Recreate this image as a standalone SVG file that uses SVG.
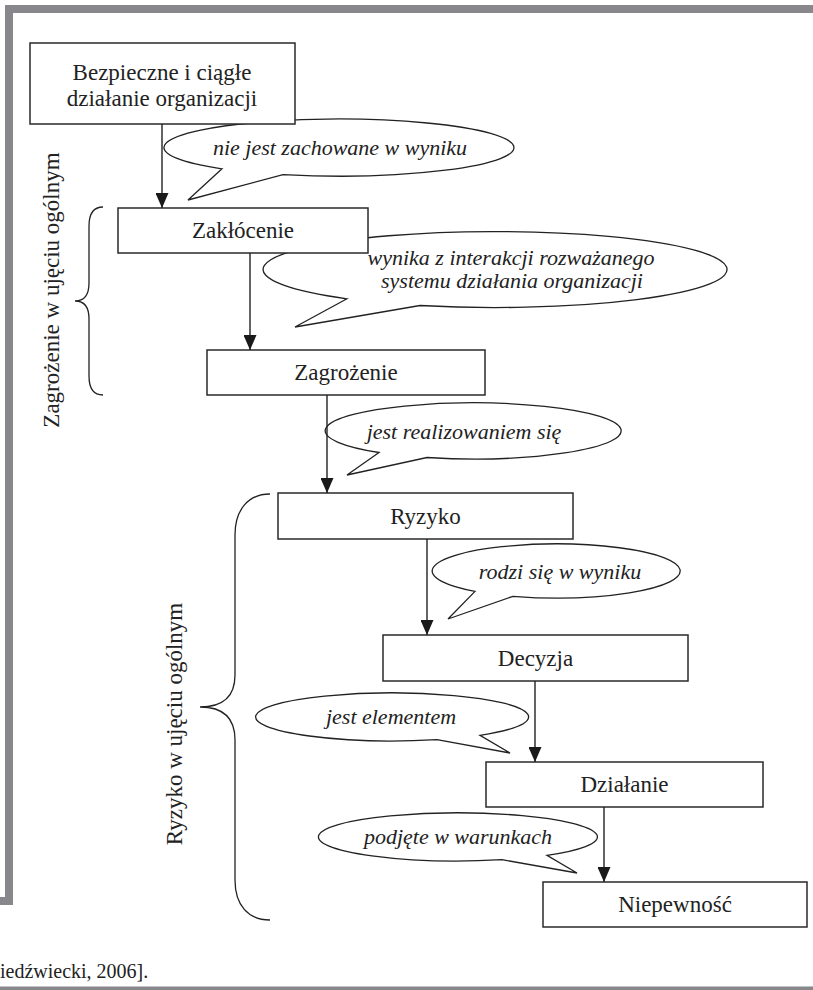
<svg xmlns="http://www.w3.org/2000/svg" width="813" height="990" viewBox="0 0 813 990">
<style>
.frame{fill:#88888c}
.box{fill:#fff;stroke:#2a2a2a;stroke-width:1.5}
.bt{font-family:"Liberation Serif",serif;font-size:23px;fill:#222;text-anchor:middle}
.bub{fill:#fff;stroke:#222;stroke-width:1.3;stroke-linejoin:miter}
.it{font-family:"Liberation Serif",serif;font-style:italic;font-size:22px;fill:#222;text-anchor:middle}
.edge{stroke:#222;stroke-width:1.4;fill:none;marker-end:url(#ah)}
.brace{fill:none;stroke:#222;stroke-width:1.3}
.vt{font-family:"Liberation Serif",serif;font-size:23px;fill:#222;text-anchor:middle}
.cap{font-family:"Liberation Serif",serif;font-size:20px;fill:#222}
</style>
<defs>
<marker id="ah" viewBox="0 0 15 13" refX="15" refY="6.5" markerWidth="15" markerHeight="13" markerUnits="userSpaceOnUse" orient="auto">
<path d="M0,0 L15,6.5 L0,13 Z" fill="#1a1a1a"/>
</marker>
</defs>
<rect width="813" height="990" fill="#fff"/>
<g id="frame">
<rect class="frame" x="5" y="5" width="808" height="8"/>
<rect class="frame" x="5" y="5" width="8" height="900"/>
<rect class="frame" x="0" y="897" width="13" height="8"/>
<rect class="frame" x="0" y="986.5" width="813" height="3.5"/>
</g>
<g id="bubbles">
<g id="b1"><path class="bub" d="M222,168.8 L188,200 L283,174.6 A175,28.5 0 1 0 222,168.8 Z"/><text class="it" x="340" y="155">nie jest zachowane w wyniku</text></g>
<g id="b2"><path class="bub" d="M347,298.8 L295,327 L420,305.5 A232,38 0 1 0 347,298.8 Z"/><text class="it" x="511" y="265">wynika z interakcji rozważanego</text><text class="it" x="512" y="288">systemu działania organizacji</text></g>
<g id="b3"><path class="bub" d="M379,452.5 L347,475 L427,457.5 A148,28 0 1 0 379,452.5 Z"/><text class="it" x="464" y="439">jest realizowaniem się</text></g>
<g id="b4"><path class="bub" d="M475,591.4 L448,619 L513,596.3 A124,27 0 1 0 475,591.4 Z"/><text class="it" x="560" y="579">rodzi się w wyniku</text></g>
<g id="b5"><path class="bub" d="M437,739.6 L510,753 L480,735.3 A136.5,24 0 1 0 437,739.6 Z"/><text class="it" x="391" y="724">jest elementem</text></g>
<g id="b6"><path class="bub" d="M502,859.7 L577,873 L547,855.4 A139.5,24 0 1 0 502,859.7 Z"/><text class="it" x="458" y="844">podjęte w warunkach</text></g>
</g>
<g id="n1"><rect class="box" x="30" y="43" width="265" height="81"/><text class="bt" x="162" y="80">Bezpieczne i ciągłe</text><text class="bt" x="162" y="106">działanie organizacji</text></g>
<g id="n2"><rect class="box" x="118" y="208" width="250" height="45"/><text class="bt" x="243" y="238">Zakłócenie</text></g>
<g id="n3"><rect class="box" x="207" y="350" width="278" height="45"/><text class="bt" x="346" y="380">Zagrożenie</text></g>
<g id="n4"><rect class="box" x="278" y="493" width="295" height="46"/><text class="bt" x="425.5" y="524">Ryzyko</text></g>
<g id="n5"><rect class="box" x="383" y="635" width="305" height="46"/><text class="bt" x="535.5" y="666">Decyzja</text></g>
<g id="n6"><rect class="box" x="486" y="762" width="277" height="45"/><text class="bt" x="624.5" y="792">Działanie</text></g>
<g id="n7"><rect class="box" x="543" y="882" width="264" height="45"/><text class="bt" x="675" y="912">Niepewność</text></g>
<g id="connectors">
<line class="edge" x1="162" y1="124" x2="162" y2="208"/>
<line class="edge" x1="250" y1="253" x2="250" y2="350"/>
<line class="edge" x1="327" y1="395" x2="327" y2="493"/>
<line class="edge" x1="427" y1="539" x2="427" y2="635"/>
<line class="edge" x1="535" y1="681" x2="535" y2="762"/>
<line class="edge" x1="604" y1="807" x2="604" y2="882"/>
</g>
<g id="brace1">
<path class="brace" d="M103,207 C93,207 89,214 89,226 L89,283 C89,295 84,301 75,301 C84,301 89,307 89,319 L89,376 C89,388 93,395 103,395"/>
<text class="vt" transform="translate(59,290) rotate(-90)">Zagrożenie w ujęciu ogólnym</text>
</g>
<g id="brace2">
<path class="brace" d="M270,494 C248,494 235,510 235,535 L235,675 C235,697 222,707 200,707 C222,707 235,717 235,740 L235,880 C235,905 248,920 270,920"/>
<text class="vt" transform="translate(182,724) rotate(-90)">Ryzyko w ujęciu ogólnym</text>
</g>
<text class="cap" x="0" y="978">iedźwiecki, 2006].</text>
</svg>
